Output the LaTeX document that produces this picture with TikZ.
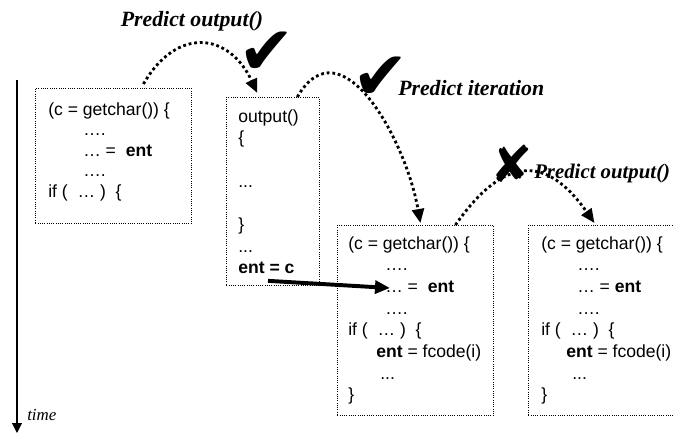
\documentclass[tikz,border=0pt]{standalone}
\usepackage{fontspec}
\setmainfont{Liberation Sans}
\newfontfamily\predfont{Liberation Serif}
\newfontfamily\markfont{DejaVu Sans}
\usetikzlibrary{arrows.meta,positioning}
\tikzset{
  codebox/.style={draw,densely dotted,line width=0.6pt,inner sep=0pt,anchor=north west},
  codetext/.style={align=left,anchor=north west,inner sep=0pt,font=\fontsize{12.5}{15.4}\selectfont},
  guess/.style={line width=2pt,dash pattern=on 2pt off 2pt,-{Triangle[length=0.35cm,width=0.3cm]}},
  predlabel/.style={font=\predfont\bfseries\itshape\fontsize{15.5}{17}\selectfont,inner sep=0pt},
  bigmark/.style={font=\markfont\fontsize{48}{48}\selectfont,inner sep=0pt}
}
\begin{document}
\begin{tikzpicture}
    \useasboundingbox (0,0) rectangle (16.85,11.1);

    % time axis
    \coordinate (tstart) at (0.425,9.1);
    \coordinate (tend) at (0.425,0.275);
    \draw[line width=0.8pt,-{Triangle[length=0.25cm,width=0.25cm]}] (tstart) -- (tend);
    \node[anchor=base west,inner sep=0pt,font=\predfont\itshape\fontsize{12}{14}\selectfont] (tlabel) at (0.675,0.6) {time};

    % code boxes
    \node[codebox,minimum width=3.9cm,minimum height=3.375cm] (loopA) at (0.875,8.9) {};
    \node[codebox,minimum width=2.325cm,minimum height=4.7cm] (outA) at (5.65,8.675) {};
    \node[codebox,minimum width=3.9cm,minimum height=4.75cm] (loopB) at (8.425,5.475) {};
    \node[codebox,minimum width=4.6cm,minimum height=4.75cm] (loopC) at (13.2,5.475) {};

    \node[codetext,font=\fontsize{12.5}{14.6}\selectfont,below right=0.355cm and 0.325cm of loopA.north west] (loopAtext) {
        (c = getchar()) \{\\
        \hspace*{0.875cm}….\\
        \hspace*{0.875cm}… = \ \textbf{ent}\\
        \hspace*{0.875cm}….\\
        if (\ \ … )\ \ \{};
    \node[codetext,below right=0.305cm and 0.3cm of outA.north west] (outAtext) {
        output()\\
        \{\\
        \mbox{}\\
        ...\\
        \mbox{}\\
        \}\\
        ...\\
        \textbf{ent = c}};
    \node[codetext,below right=0.28cm and 0.275cm of loopB.north west] (loopBtext) {
        (c = getchar()) \{\\
        \hspace*{0.925cm}….\\
        \hspace*{0.925cm}… = \ \textbf{ent}\\
        \hspace*{0.925cm}….\\
        if (\ \ … )\ \ \{\\
        \hspace*{0.7cm}\textbf{ent} = fcode(i)\\
        \hspace*{0.8cm}...\\
        \}};
    \node[codetext,below right=0.28cm and 0.325cm of loopC.north west] (loopCtext) {
        (c = getchar()) \{\\
        \hspace*{0.9cm}….\\
        \hspace*{0.9cm}… = \textbf{ent}\\
        \hspace*{0.9cm}….\\
        if (\ \ … )\ \ \{\\
        \hspace*{0.625cm}\textbf{ent} = fcode(i)\\
        \hspace*{0.775cm}...\\
        \}};

    % predictions
    \draw[guess] ([xshift=0.75cm,yshift=0.1cm]loopA.north) to[out=60,in=115,looseness=1.5] ([xshift=-0.39cm,yshift=0.1cm]outA.north);
    \draw[guess] ([xshift=0.61cm]outA.north) to[out=60,in=100,looseness=1.25] ([xshift=0.125cm,yshift=0.05cm]loopB.north);
    \draw[guess] ([xshift=1.0cm]loopB.north) to[out=55,in=125,looseness=1.55] ([xshift=-0.65cm,yshift=0.05cm]loopC.north);

    \node[predlabel,anchor=base] (predA) at (4.8,10.45) {Predict output()};
    \node[predlabel,anchor=base west] (predB) at (9.95,8.725) {Predict iteration};
    \node[predlabel,anchor=base west,font=\predfont\bfseries\itshape\fontsize{14.8}{17}\selectfont] (predC) at (13.35,6.65) {Predict output()};

    \node[bigmark] (okA) at (6.68,9.78) {✔};
    \node[bigmark] (okB) at (9.525,9.15) {✔};
    \node[bigmark,font=\markfont\fontsize{36}{36}\selectfont] (failC) at (12.78,7.0) {✘};

    % value of ent carried over
    \coordinate (entSrc) at ([shift={(1.05,0.125)}]outA.south west);
    \coordinate (entDst) at ([shift={(1.325,-1.575)}]loopB.north west);
    \draw[line width=2.8pt,-{Triangle[length=0.375cm,width=0.32cm]}] (entSrc) -- (entDst);

\end{tikzpicture}
\end{document}
